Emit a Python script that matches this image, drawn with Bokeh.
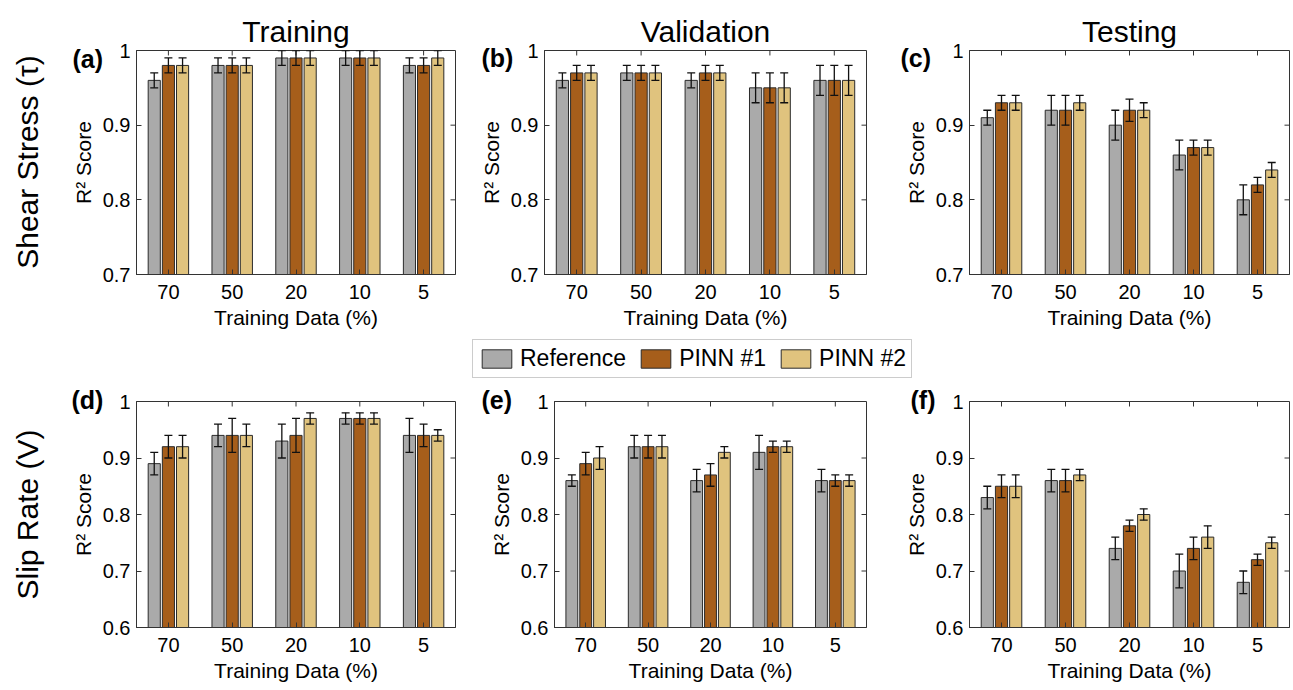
from math import pi
from bokeh.plotting import figure
from bokeh.layouts import column, row
from bokeh.models import (ColumnDataSource, FixedTicker, Whisker, TeeHead,
                          Label, Legend, LegendItem, GridBox, Range1d)
from bokeh.embed import file_html
from bokeh.resources import INLINE

# ---------------- data ----------------
categories = ["70", "50", "20", "10", "5"]
series_names = ["Reference", "PINN #1", "PINN #2"]
col_titles = ["Training", "Validation", "Testing"]
row_labels = ["Shear Stress (τ)", "Slip Rate (V)"]
panel_tags = ["(a)", "(b)", "(c)", "(d)", "(e)", "(f)"]
x_axis_label = "Training Data (%)"
y_axis_label = "R² Score"

# Shear stress (tau)
tau_train_ref = [0.96, 0.98, 0.99, 0.99, 0.98]
tau_train_p1 = [0.98, 0.98, 0.99, 0.99, 0.98]
tau_train_p2 = [0.98, 0.98, 0.99, 0.99, 0.99]
tau_train_ref_err = [0.01, 0.01, 0.01, 0.01, 0.01]
tau_train_p1_err = [0.01, 0.01, 0.01, 0.01, 0.01]
tau_train_p2_err = [0.01, 0.01, 0.01, 0.01, 0.01]

tau_val_ref = [0.96, 0.97, 0.96, 0.95, 0.96]
tau_val_p1 = [0.97, 0.97, 0.97, 0.95, 0.96]
tau_val_p2 = [0.97, 0.97, 0.97, 0.95, 0.96]
tau_val_ref_err = [0.01, 0.01, 0.01, 0.02, 0.02]
tau_val_p1_err = [0.01, 0.01, 0.01, 0.02, 0.02]
tau_val_p2_err = [0.01, 0.01, 0.01, 0.02, 0.02]

tau_test_ref = [0.91, 0.92, 0.90, 0.86, 0.80]
tau_test_p1 = [0.93, 0.92, 0.92, 0.87, 0.82]
tau_test_p2 = [0.93, 0.93, 0.92, 0.87, 0.84]
tau_test_ref_err = [0.01, 0.02, 0.02, 0.02, 0.02]
tau_test_p1_err = [0.01, 0.02, 0.015, 0.01, 0.01]
tau_test_p2_err = [0.01, 0.01, 0.01, 0.01, 0.01]

# Slip rate (V)
v_train_ref = [0.89, 0.94, 0.93, 0.97, 0.94]
v_train_p1 = [0.92, 0.94, 0.94, 0.97, 0.94]
v_train_p2 = [0.92, 0.94, 0.97, 0.97, 0.94]
v_train_ref_err = [0.02, 0.02, 0.03, 0.01, 0.03]
v_train_p1_err = [0.02, 0.03, 0.03, 0.01, 0.02]
v_train_p2_err = [0.02, 0.02, 0.01, 0.01, 0.01]

v_val_ref = [0.86, 0.92, 0.86, 0.91, 0.86]
v_val_p1 = [0.89, 0.92, 0.87, 0.92, 0.86]
v_val_p2 = [0.90, 0.92, 0.91, 0.92, 0.86]
v_val_ref_err = [0.01, 0.02, 0.02, 0.03, 0.02]
v_val_p1_err = [0.02, 0.02, 0.02, 0.01, 0.01]
v_val_p2_err = [0.02, 0.02, 0.01, 0.01, 0.01]

v_test_ref = [0.83, 0.86, 0.74, 0.70, 0.68]
v_test_p1 = [0.85, 0.86, 0.78, 0.74, 0.72]
v_test_p2 = [0.85, 0.87, 0.80, 0.76, 0.75]
v_test_ref_err = [0.02, 0.02, 0.02, 0.03, 0.02]
v_test_p1_err = [0.02, 0.02, 0.01, 0.02, 0.01]
v_test_p2_err = [0.02, 0.01, 0.01, 0.02, 0.01]

top_yticks = [0.7, 0.8, 0.9, 1.0]
bottom_yticks = [0.6, 0.7, 0.8, 0.9, 1.0]

# ---------------- style / layout ----------------
FONT = "Liberation Sans"
COLORS = ["#AAAAAA", "#A65E1B", "#E0C37E"]
EDGE = "#2b2b2b"
AX = "#333333"
OFFS = [-0.222, 0.0, 0.222]
BAR_W = 0.19
TICK = 5
PAGE_W, PAGE_H = 1293, 690

panels = [
    dict(vals=[tau_train_ref, tau_train_p1, tau_train_p2],
         errs=[tau_train_ref_err, tau_train_p1_err, tau_train_p2_err],
         yticks=top_yticks, W=470, H=390, fl=136, fr=455, ft=49, fb=274, px=0, py=0),
    dict(vals=[tau_val_ref, tau_val_p1, tau_val_p2],
         errs=[tau_val_ref_err, tau_val_p1_err, tau_val_p2_err],
         yticks=top_yticks, W=420, H=390, fl=544, fr=866, ft=49, fb=274, px=470, py=0),
    dict(vals=[tau_test_ref, tau_test_p1, tau_test_p2],
         errs=[tau_test_ref_err, tau_test_p1_err, tau_test_p2_err],
         yticks=top_yticks, W=403, H=390, fl=969, fr=1289, ft=50, fb=275, px=890, py=0),
    dict(vals=[v_train_ref, v_train_p1, v_train_p2],
         errs=[v_train_ref_err, v_train_p1_err, v_train_p2_err],
         yticks=bottom_yticks, W=470, H=300, fl=136, fr=455, ft=401, fb=627, px=0, py=390),
    dict(vals=[v_val_ref, v_val_p1, v_val_p2],
         errs=[v_val_ref_err, v_val_p1_err, v_val_p2_err],
         yticks=bottom_yticks, W=420, H=300, fl=554, fr=866, ft=401, fb=627, px=470, py=390),
    dict(vals=[v_test_ref, v_test_p1, v_test_p2],
         errs=[v_test_ref_err, v_test_p1_err, v_test_p2_err],
         yticks=bottom_yticks, W=403, H=300, fl=969, fr=1289, ft=401, fb=627, px=890, py=390),
]
# text placement in page pixels (x, y)
title_pos = [(295.5, 31), (705, 31), (1129, 31)]
tag_pos = [(72, 58), (481, 57), (900, 57), (71, 399), (481, 399), (910, 399)]
rowlabel_pos = [(27, 161.5), (27, 514)]
legend_box = (472, 378)  # left, bottom

X0, X1 = 0.5, len(categories) + 0.5


def make_panel(cfg):
    y0, y1 = cfg["yticks"][0], cfg["yticks"][-1]
    fw = cfg["fr"] - cfg["fl"]
    fh = cfg["fb"] - cfg["ft"]
    p = figure(width=cfg["W"], height=cfg["H"], x_range=(X0, X1), y_range=(y0, y1),
               output_backend="svg", toolbar_location=None,
               min_border_left=cfg["fl"] - cfg["px"],
               min_border_right=cfg["px"] + cfg["W"] - cfg["fr"],
               min_border_top=cfg["ft"] - cfg["py"],
               min_border_bottom=cfg["py"] + cfg["H"] - cfg["fb"])
    p.xgrid.visible = False
    p.ygrid.visible = False
    p.outline_line_color = AX
    p.outline_line_width = 1
    p.background_fill_color = "white"
    p.border_fill_color = "white"

    xs = list(range(1, len(categories) + 1))
    for j in range(3):
        top = cfg["vals"][j]
        err = cfg["errs"][j]
        src = ColumnDataSource(dict(
            xd=[x + OFFS[j] for x in xs], top=top,
            upper=[t + e for t, e in zip(top, err)],
            lower=[t - e for t, e in zip(top, err)]))
        p.vbar(x="xd", top="top", bottom=0, width=BAR_W, source=src,
               fill_color=COLORS[j], line_color=EDGE, line_width=1)
        w = Whisker(source=src, base="xd", upper="upper", lower="lower",
                    line_color="#111111", line_width=1.3, level="overlay",
                    upper_head=TeeHead(size=8, line_color="#111111", line_width=1.3),
                    lower_head=TeeHead(size=8, line_color="#111111", line_width=1.3))
        p.add_layout(w)

    # inward tick marks on the top and right edges (box style)
    tdx = TICK / fw * (X1 - X0)
    tdy = TICK / fh * (y1 - y0)
    inner_y = cfg["yticks"][1:-1]
    p.segment(x0=[X1] * len(inner_y), x1=[X1 - tdx] * len(inner_y), y0=inner_y, y1=inner_y,
              line_color=AX, line_width=1)
    p.segment(x0=xs, x1=xs, y0=[y1] * len(xs), y1=[y1 - tdy] * len(xs),
              line_color=AX, line_width=1)

    xover = {i + 1: c for i, c in enumerate(categories)}
    yover = {t: ("1" if t == 1.0 else f"{t:.1f}") for t in cfg["yticks"]}

    for ax in [p.xaxis[0], p.yaxis[0]]:
        ax.major_tick_in = TICK
        ax.major_tick_out = 0
        ax.minor_tick_line_color = None
        ax.axis_line_color = AX
        ax.major_tick_line_color = AX
        ax.major_label_text_font = FONT
        ax.major_label_text_font_size = "20px"
        ax.major_label_text_color = "black"
        ax.axis_label_text_font = FONT
        ax.axis_label_text_font_size = "21px"
        ax.axis_label_text_font_style = "normal"
        ax.axis_label_text_color = "black"
    p.xaxis.ticker = FixedTicker(ticks=xs)
    p.xaxis.major_label_overrides = xover
    p.xaxis.major_label_standoff = 10
    p.xaxis.axis_label = x_axis_label
    p.xaxis.axis_label_standoff = 4
    p.yaxis.ticker = FixedTicker(ticks=cfg["yticks"])
    p.yaxis.major_label_overrides = yover
    p.yaxis.major_label_standoff = 6
    p.yaxis.axis_label = y_axis_label
    p.yaxis.axis_label_standoff = 5
    return p


figs = [make_panel(cfg) for cfg in panels]
main = column(row(figs[0], figs[1], figs[2]), row(figs[3], figs[4], figs[5]))

# transparent overlay in page-pixel coordinates for titles, tags, row labels, legend
ov = figure(width=PAGE_W, height=PAGE_H, x_range=Range1d(0, PAGE_W), y_range=Range1d(PAGE_H, 0),
            output_backend="svg", toolbar_location=None, x_axis_type=None, y_axis_type=None,
            min_border=0)
ov.xgrid.visible = False
ov.ygrid.visible = False
ov.outline_line_color = None
ov.background_fill_alpha = 0
ov.border_fill_alpha = 0

for (tx, ty), t in zip(title_pos, col_titles):
    ov.add_layout(Label(x=tx, y=ty, text=t, text_font=FONT, text_font_size="30px",
                        text_align="center", text_baseline="alphabetic", text_color="black"))
for (tx, ty), t in zip(tag_pos, panel_tags):
    ov.add_layout(Label(x=tx, y=ty, text=t, text_font=FONT, text_font_size="25px",
                        text_font_style="bold", text_align="left", text_baseline="middle",
                        text_color="black"))
for (tx, ty), t in zip(rowlabel_pos, row_labels):
    ov.add_layout(Label(x=tx, y=ty, text=t, angle=pi / 2, text_font=FONT, text_font_size="30px",
                        text_align="center", text_baseline="middle", text_color="black"))

# legend swatches: hidden proxy renderers carrying the series colours
legend_src = ColumnDataSource(dict(x=[0.0], top=[0.0]))
dummy = []
for j in range(3):
    r = ov.vbar(x="x", top="top", width=0.0, source=legend_src, fill_color=COLORS[j],
                line_color=EDGE, line_width=1)
    r.visible = False
    dummy.append(r)
legend = Legend(items=[LegendItem(label=series_names[j], renderers=[dummy[j]]) for j in range(3)],
                orientation="horizontal",
                location=(legend_box[0], PAGE_H - legend_box[1]),
                glyph_width=37, glyph_height=23, label_standoff=5, spacing=11,
                padding=5, margin=0, label_text_font=FONT, label_text_font_size="23px",
                label_text_color="black", border_line_color="#999999", border_line_width=1,
                background_fill_color="white", background_fill_alpha=1.0)
ov.add_layout(legend)

layout = GridBox(children=[(main, 0, 0), (ov, 0, 0)])

open("out.html", "w").write(file_html(layout, INLINE))
